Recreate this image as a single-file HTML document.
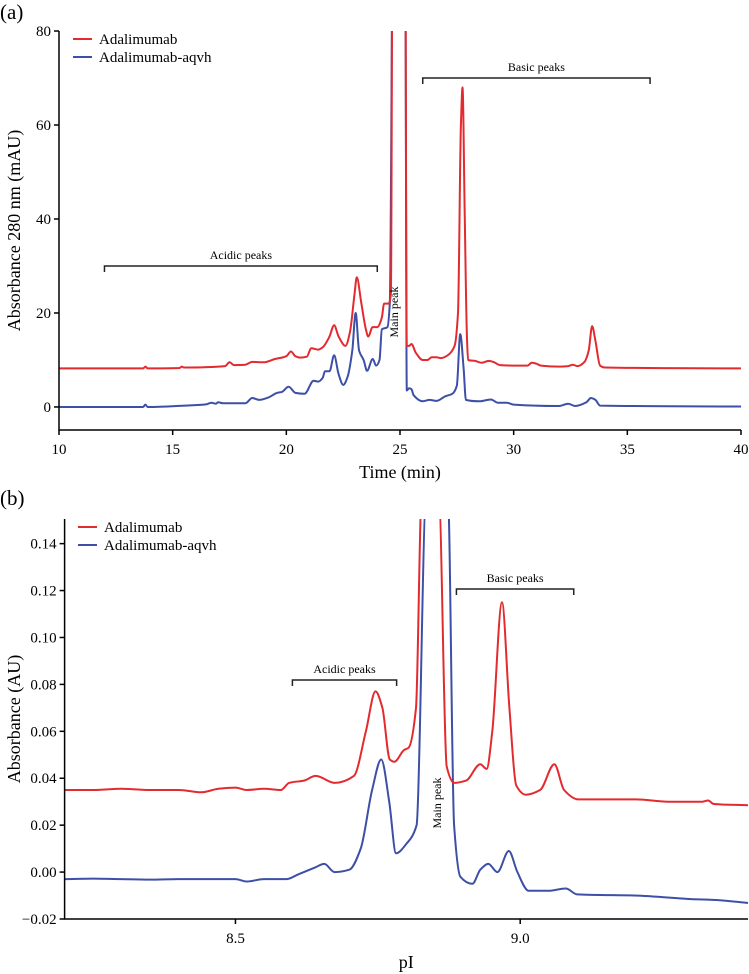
<!DOCTYPE html>
<html><head><meta charset="utf-8"><style>
body{margin:0;background:#fff;}
svg{display:block;font-family:"Liberation Serif",serif;}
svg text{font-family:"Liberation Serif",serif;}
</style></head><body>
<svg id="fig" width="749" height="974" viewBox="0 0 749 974"></svg>
<script>
// ---- Panel (a) data ----
const aRedT=[10,13.7,13.8,13.9,15.3,15.4,15.5,17.3,17.5,17.7,18.2,18.5,19,19.5,20,20.2,20.4,20.6,20.9,21.1,21.4,21.6,21.9,22.1,22.3,22.6,22.8,23.0,23.1,23.3,23.5,23.6,23.8,24.0,24.2,24.3,24.5,24.6,24.7,25.2,25.3,25.4,25.5,25.7,26,26.2,26.4,26.6,26.8,27.1,27.4,27.55,27.68,27.75,27.85,27.95,28.0,28.3,28.6,28.9,29.1,29.4,30,30.6,30.8,31,31.2,32,32.4,32.6,32.8,33.1,33.3,33.45,33.6,33.8,34,40];
const aRedV=[8.2,8.2,8.6,8.2,8.3,8.6,8.4,8.7,9.5,8.9,9.0,9.6,9.5,10.2,10.8,11.8,10.8,10.5,10.7,12.5,12.2,12.7,15,17.4,15,13,16,24,27.6,22,16.5,15,17,17,19,22,22,24,150,150,13,13,13.4,11.5,10,10,10.6,10.6,10.4,11,13,20,60,68,40,14,10,9.8,9.4,9.8,9.6,8.9,8.8,8.8,9.4,9.2,8.8,8.6,8.7,9.0,8.7,9.5,12,17.2,14,8.8,8.4,8.2];
const aBlueT=[10,13.7,13.8,13.9,15.5,16.5,16.7,16.9,17.0,17.2,18.2,18.5,18.8,19.2,19.6,19.8,20.1,20.4,20.8,21.2,21.4,21.6,21.7,21.9,22.1,22.3,22.5,22.7,22.9,23.05,23.2,23.4,23.55,23.8,23.95,24.1,24.2,24.45,24.55,24.75,25.2,25.3,25.4,25.5,25.6,26,26.3,26.6,27,27.3,27.5,27.65,27.8,27.9,28.5,29,29.3,29.7,30,32,32.4,32.7,33.2,33.4,33.6,33.8,40];
const aBlueV=[0,0,0.5,0,0.3,0.6,0.9,0.7,1.0,0.8,0.8,1.9,1.5,2.0,3,3.2,4.3,3.0,2.8,5.6,5.4,6.2,7.6,7.6,11,7,4.7,6.5,12,20,12,10,7.7,10.2,8.8,10,16.5,17,22,150,150,3.5,4.0,3.8,2.5,1.2,1.5,1.3,2.3,2.8,4.5,15.5,8,1.5,1.2,1.6,0.9,0.9,0.5,0.2,0.7,0.2,1,1.9,1.5,0.3,0.1];
const aXTicks=[10,15,20,25,30,35,40];
const aYTicks=[0,20,40,60,80];
// ---- Panel (b) data ----
const bRedP=[8.2,8.25,8.3,8.35,8.4,8.44,8.47,8.5,8.52,8.55,8.58,8.594,8.62,8.641,8.674,8.708,8.729,8.746,8.758,8.771,8.779,8.796,8.804,8.817,8.827,8.857,8.871,8.884,8.905,8.93,8.941,8.951,8.968,8.981,8.993,9.01,9.035,9.06,9.077,9.102,9.203,9.26,9.32,9.33,9.34,9.4];
const bRedV=[0.035,0.035,0.0355,0.035,0.035,0.034,0.0355,0.036,0.035,0.0355,0.035,0.038,0.039,0.041,0.038,0.041,0.06,0.077,0.07,0.048,0.047,0.052,0.053,0.07,0.16,0.16,0.045,0.038,0.039,0.046,0.044,0.06,0.115,0.07,0.037,0.033,0.035,0.046,0.035,0.031,0.031,0.030,0.030,0.0305,0.029,0.0285];
const bBlueP=[8.2,8.25,8.3,8.35,8.4,8.45,8.5,8.52,8.55,8.59,8.61,8.64,8.656,8.674,8.7,8.72,8.74,8.756,8.77,8.782,8.8,8.818,8.835,8.873,8.884,8.895,8.916,8.93,8.944,8.96,8.98,8.995,9.015,9.05,9.08,9.1,9.2,9.3,9.35,9.4];
const bBlueV=[-0.003,-0.0028,-0.003,-0.0032,-0.003,-0.003,-0.003,-0.004,-0.003,-0.003,-0.001,0.002,0.0035,0.0,0.001,0.01,0.035,0.048,0.03,0.008,0.012,0.02,0.16,0.16,0.02,-0.002,-0.005,0.001,0.0035,0,0.009,0,-0.008,-0.008,-0.007,-0.0095,-0.010,-0.0115,-0.012,-0.0132];
const bXTicks=[8.5,9.0];
const bYTicks=[-0.02,0.00,0.02,0.04,0.06,0.08,0.10,0.12,0.14];

const NS='http://www.w3.org/2000/svg';
const svg=document.getElementById('fig');
function mk(tag,attrs,parent){const e=document.createElementNS(NS,tag);for(const k in attrs)e.setAttribute(k,attrs[k]);(parent||svg).appendChild(e);return e;}
const RED='#e32a2f',BLUE='#3d4fa6';

// monotone cubic path through screen points
function monoPath(P){
  const n=P.length;const dx=[],m=[],t=[];
  for(let i=0;i<n-1;i++){dx[i]=P[i+1][0]-P[i][0];m[i]=(P[i+1][1]-P[i][1])/dx[i];}
  t[0]=m[0];t[n-1]=m[n-2];
  for(let i=1;i<n-1;i++){
    if(m[i-1]*m[i]<=0)t[i]=0;
    else{const w1=2*dx[i]+dx[i-1],w2=dx[i]+2*dx[i-1];t[i]=(w1+w2)/(w1/m[i-1]+w2/m[i]);}
  }
  let d='M'+P[0][0].toFixed(1)+','+P[0][1].toFixed(1);
  for(let i=0;i<n-1;i++){
    const h=dx[i]/3;
    d+='C'+(P[i][0]+h).toFixed(1)+','+(P[i][1]+t[i]*h).toFixed(1)+' '+(P[i+1][0]-h).toFixed(1)+','+(P[i+1][1]-t[i+1]*h).toFixed(1)+' '+P[i+1][0].toFixed(1)+','+P[i+1][1].toFixed(1);
  }
  return d;
}

function panel(o){
  const g=mk('g',{});
  
  
  const sx=v=>o.x0+(v-o.xmin)/(o.xmax-o.xmin)*(o.x1-o.x0);
  const sy=v=>o.y1-(v-o.ymin)/(o.ymax-o.ymin)*(o.y1-o.y0);
  const cid='clip-'+o.name;
  const d=mk('defs',{},g);const cp=mk('clipPath',{id:cid},d);
  mk('rect',{x:o.x0,y:o.y0,width:o.x1-o.x0+2,height:o.y1-o.y0},cp);
  function line(xs,vs,col,nm){
    const P=xs.map((x,i)=>[sx(x),sy(vs[i])]);
    const e=mk('path',{d:monoPath(P),fill:'none',stroke:col,'stroke-width':2,'stroke-linejoin':'round','clip-path':'url(#'+cid+')'},g);
    
    
  }
  line(o.bx,o.bv,BLUE,'adalimumab-aqvh-line');
  line(o.rx,o.rv,RED,'adalimumab-line');
  const ax=mk('path',{d:`M${o.x0},${o.y0}V${o.y1}H${o.x1}`,fill:'none',stroke:'#000','stroke-width':1.5},g);
  
  
  const TF='"Liberation Serif",serif';
  o.xt.forEach(t=>{const x=sx(t);mk('line',{x1:x,x2:x,y1:o.y1,y2:o.y1+5,stroke:'#000','stroke-width':1.5},g);
    const tx=mk('text',{x:x,y:o.y1+24,'font-size':15,'text-anchor':'middle','font-family':TF},g);tx.textContent=o.xfmt(t);
    
    });
  o.yt.forEach(t=>{const y=sy(t);mk('line',{x1:o.x0-5,x2:o.x0,y1:y,y2:y,stroke:'#000','stroke-width':1.5},g);
    const tx=mk('text',{x:o.x0-8,y:y+5,'font-size':15,'text-anchor':'end','font-family':TF},g);tx.textContent=o.yfmt(t);
    
    });
  const xt=mk('text',{x:(o.x0+o.x1)/2,y:o.xty,'font-size':18,'text-anchor':'middle','font-family':TF},g);xt.textContent=o.xlabel;
  
  
  const yt=mk('text',{x:0,y:0,'font-size':18,'text-anchor':'middle','font-family':TF,transform:`translate(${o.ytx},${(o.y0+o.y1)/2}) rotate(-90)`},g);yt.textContent=o.ylabel;
  
  
  o.br.forEach(b=>{const x1=sx(b[0]),x2=sx(b[1]);
    const p=mk('path',{d:`M${x1},${b[2]+6}V${b[2]}H${x2}V${b[2]+6}`,fill:'none',stroke:'#222','stroke-width':1.5},g);
    
    
    const t=mk('text',{x:(x1+x2)/2,y:b[2]-7,'font-size':12,'text-anchor':'middle','font-family':TF},g);t.textContent=b[4];
    
    });
  const mp=mk('text',{x:0,y:0,'font-size':12,'text-anchor':'middle','font-family':TF,transform:`translate(${o.mp[0]},${o.mp[1]}) rotate(-90)`},g);mp.textContent='Main peak';
  
  
  [[RED,'Adalimumab'],[BLUE,'Adalimumab-aqvh']].forEach((l,i)=>{const y=o.lg[1]+i*18;
    const ln=mk('line',{x1:o.lg[0],x2:o.lg[0]+19,y1:y,y2:y,stroke:l[0],'stroke-width':2},g);
    
    
    const t=mk('text',{x:o.lg[0]+26,y:y+5,'font-size':15,'font-family':TF},g);t.textContent=l[1];
    
    });
  const pl=mk('text',{x:0,y:o.pl,'font-size':21,'font-family':TF},g);pl.textContent=o.plabel;
  
  
}

panel({name:'panel-a',x0:59,x1:741,y0:31,y1:430,xmin:10,xmax:40,ymin:-4.9,ymax:80,
  rx:aRedT,rv:aRedV,bx:aBlueT,bv:aBlueV,xt:aXTicks,yt:aYTicks,xfmt:v=>v,yfmt:v=>v,
  xlabel:'Time (min)',xty:478,ylabel:'Absorbance 280 nm (mAU)',ytx:20,
  br:[[12,24,266,'acidic-peaks','Acidic peaks'],[26,36,78,'basic-peaks','Basic peaks']],
  mp:[398,312],lg:[73,39],plabel:'(a)',pl:19});

panel({name:'panel-b',x0:64.6,x1:748,y0:519,y1:919,xmin:8.2,xmax:9.4,ymin:-0.02,ymax:0.1505,
  rx:bRedP,rv:bRedV,bx:bBlueP,bv:bBlueV,xt:bXTicks,yt:bYTicks,xfmt:v=>v.toFixed(1),yfmt:v=>(v<0?'\u22120.02':v.toFixed(2)),
  xlabel:'pI',xty:968,ylabel:'Absorbance (AU)',ytx:20,
  br:[[8.6,8.783,680,'acidic-peaks','Acidic peaks'],[8.888,9.094,589,'basic-peaks','Basic peaks']],
  mp:[441,803],lg:[78,527],plabel:'(b)',pl:505});
</script>
</body></html>
